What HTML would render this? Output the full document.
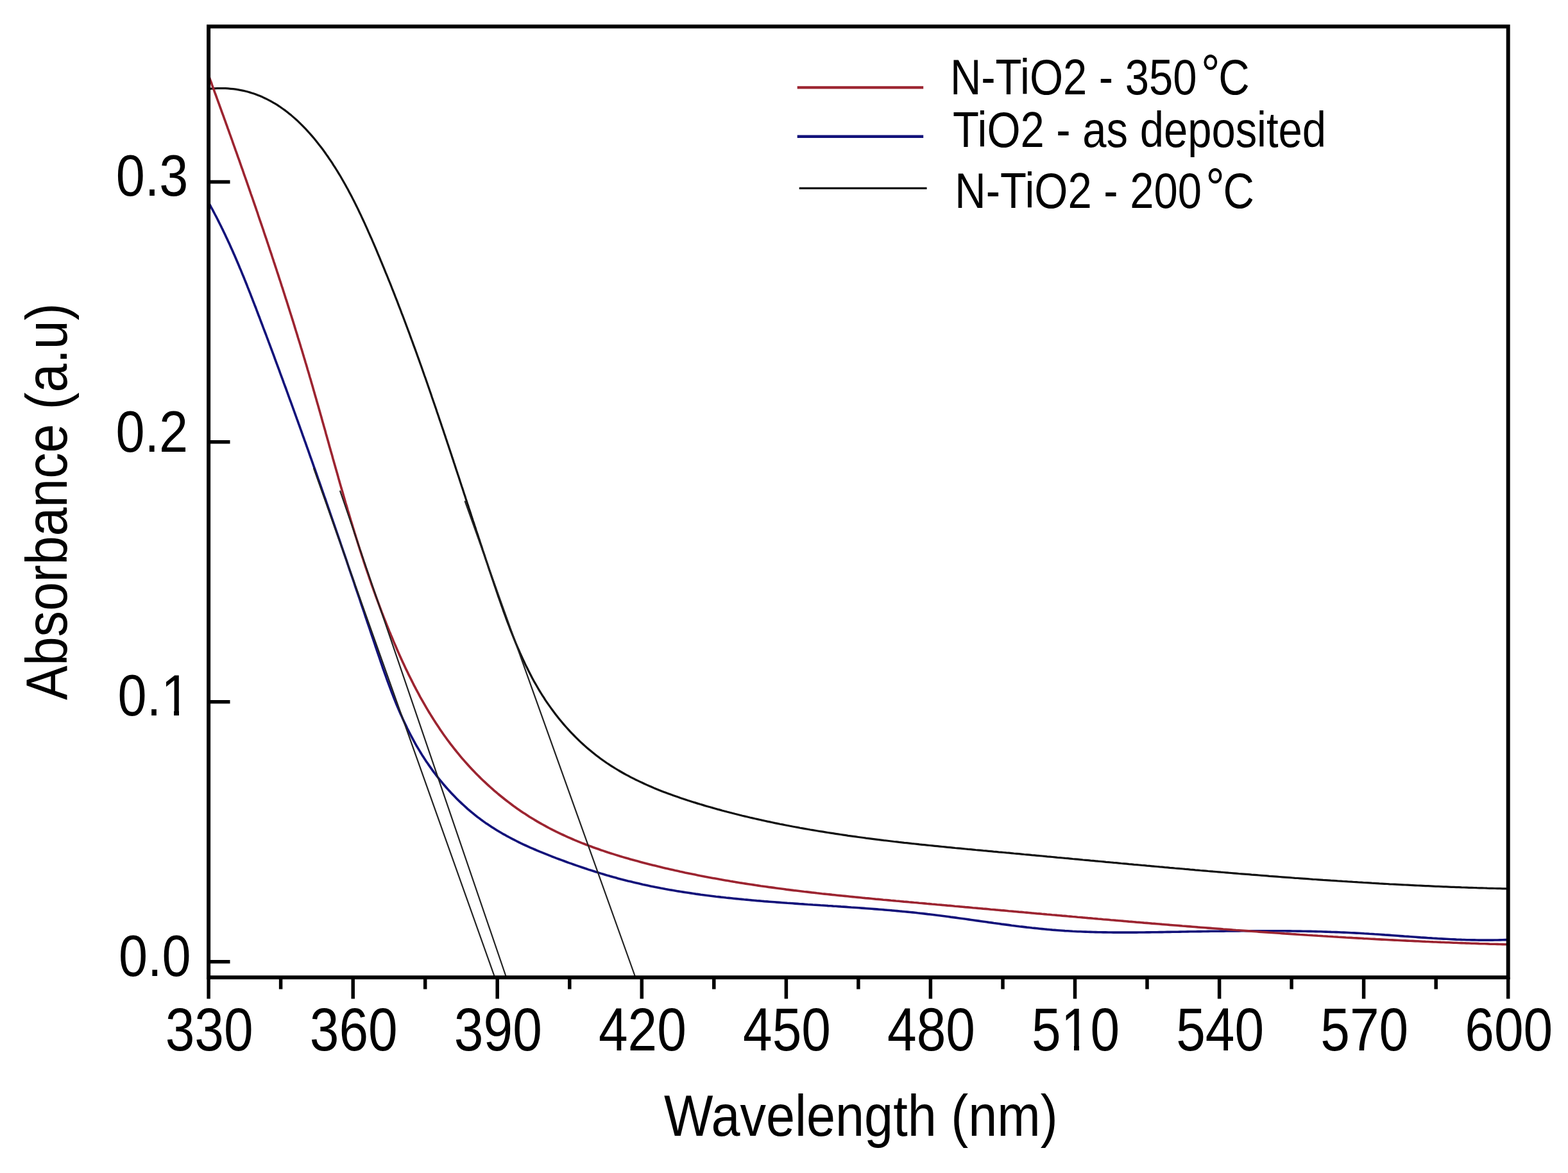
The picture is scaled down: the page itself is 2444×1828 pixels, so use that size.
<!DOCTYPE html><html><head><meta charset="utf-8"><title>Absorbance spectra</title><style>html,body{margin:0;padding:0;background:#fff;overflow:hidden;width:2444px;height:1828px;}svg{display:block;}text{font-family:"Liberation Sans",Arial,sans-serif;}</style></head><body>
<svg width="2444" height="1828" viewBox="0 0 2444 1828">
<rect x="0" y="0" width="2444" height="1828" fill="#fff"/>
<defs><clipPath id="pa"><rect x="325.1" y="41.3" width="2025.6" height="1481.9"/></clipPath></defs>
<g clip-path="url(#pa)" fill="none" stroke-linejoin="round" stroke-linecap="round">
<path d="M325.3,138.6 L329.8,138.1 L334.2,137.8 L338.5,137.6 L342.8,137.6 L347.1,137.6 L351.3,137.7 L355.4,137.9 L359.5,138.3 L363.6,138.7 L367.6,139.2 L371.6,139.9 L375.5,140.6 L379.4,141.4 L383.2,142.3 L387.0,143.3 L390.7,144.4 L394.4,145.6 L398.1,146.8 L401.7,148.2 L405.2,149.6 L408.8,151.1 L412.2,152.7 L415.7,154.4 L419.1,156.1 L422.4,157.9 L425.8,159.8 L429.0,161.7 L432.3,163.7 L435.5,165.8 L438.6,168.0 L441.8,170.2 L444.9,172.4 L447.9,174.8 L450.9,177.2 L453.9,179.6 L456.8,182.1 L459.7,184.6 L462.6,187.2 L465.4,189.9 L468.2,192.6 L471.0,195.3 L473.7,198.1 L476.4,200.9 L479.1,203.8 L481.7,206.7 L484.3,209.6 L486.9,212.6 L489.4,215.6 L492.0,218.7 L494.4,221.8 L496.9,224.9 L499.3,228.0 L501.7,231.1 L504.1,234.3 L506.4,237.5 L508.7,240.8 L511.0,244.0 L513.2,247.3 L515.5,250.6 L517.7,253.9 L519.8,257.3 L522.0,260.6 L524.1,264.0 L526.2,267.4 L528.3,270.8 L530.4,274.3 L532.4,277.7 L534.4,281.2 L536.4,284.7 L538.4,288.2 L540.3,291.8 L542.3,295.3 L544.2,298.9 L546.1,302.4 L548.0,306.0 L549.8,309.6 L551.7,313.2 L553.5,316.9 L555.3,320.5 L557.1,324.1 L558.9,327.8 L560.6,331.5 L562.4,335.1 L564.1,338.8 L565.8,342.5 L567.5,346.2 L569.2,349.9 L570.9,353.6 L572.6,357.3 L574.2,361.1 L575.9,364.8 L577.5,368.5 L579.2,372.2 L580.8,376.0 L582.4,379.7 L584.0,383.4 L585.6,387.2 L587.2,390.9 L588.7,394.7 L590.3,398.4 L591.9,402.1 L593.4,405.9 L595.0,409.6 L596.5,413.3 L598.1,417.1 L599.6,420.8 L601.1,424.6 L602.7,428.3 L604.2,432.0 L605.7,435.8 L607.2,439.5 L608.7,443.2 L610.2,447.0 L611.6,450.7 L613.1,454.4 L614.6,458.2 L616.0,461.9 L617.5,465.6 L619.0,469.4 L620.4,473.1 L621.8,476.9 L623.3,480.6 L624.7,484.3 L626.1,488.1 L627.6,491.8 L629.0,495.5 L630.4,499.3 L631.8,503.0 L633.2,506.7 L634.6,510.5 L636.0,514.2 L637.4,517.9 L638.8,521.7 L640.1,525.4 L641.5,529.2 L642.9,532.9 L644.2,536.6 L645.6,540.4 L647.0,544.1 L648.3,547.8 L649.7,551.6 L651.0,555.3 L652.4,559.1 L653.7,562.8 L655.0,566.5 L656.4,570.3 L657.7,574.0 L659.0,577.8 L660.3,581.5 L661.6,585.3 L663.0,589.0 L664.3,592.7 L665.6,596.5 L666.9,600.2 L668.2,604.0 L669.5,607.7 L670.8,611.5 L672.1,615.2 L673.3,619.0 L674.6,622.7 L675.9,626.5 L677.2,630.2 L678.5,634.0 L679.8,637.7 L681.0,641.5 L682.3,645.2 L683.6,649.0 L684.8,652.7 L686.1,656.5 L687.4,660.2 L688.6,664.0 L689.9,667.7 L691.2,671.5 L692.4,675.3 L693.7,679.0 L694.9,682.8 L696.2,686.5 L697.4,690.3 L698.7,694.1 L699.9,697.8 L701.2,701.6 L702.4,705.3 L703.7,709.1 L704.9,712.9 L706.2,716.6 L707.4,720.4 L708.7,724.2 L709.9,728.0 L711.1,731.7 L712.4,735.5 L713.6,739.3 L714.9,743.1 L716.1,746.8 L717.3,750.6 L718.6,754.4 L719.8,758.2 L721.1,761.9 L722.3,765.7 L723.5,769.5 L724.8,773.3 L726.0,777.1 L727.3,780.9 L728.5,784.7 L729.8,788.4 L731.0,792.2 L732.3,796.0 L733.5,799.8 L734.7,803.6 L736.0,807.4 L737.2,811.2 L738.5,815.0 L739.7,818.8 L741.0,822.6 L742.2,826.4 L743.5,830.2 L744.8,834.0 L746.0,837.8 L747.3,841.6 L748.5,845.4 L749.8,849.3 L751.1,853.1 L752.3,856.9 L753.6,860.7 L754.9,864.5 L756.1,868.3 L757.4,872.2 L758.7,876.0 L760.0,879.8 L761.2,883.6 L762.5,887.5 L763.8,891.3 L765.1,895.1 L766.4,898.9 L767.7,902.8 L769.0,906.6 L770.3,910.5 L771.6,914.3 L772.9,918.1 L774.2,922.0 L775.5,925.8 L776.8,929.7 L778.2,933.5 L779.5,937.3 L780.9,941.2 L782.2,945.0 L783.6,948.8 L784.9,952.7 L786.3,956.5 L787.7,960.3 L789.1,964.1 L790.5,967.9 L791.9,971.7 L793.4,975.5 L794.8,979.3 L796.3,983.1 L797.8,986.9 L799.3,990.6 L800.8,994.4 L802.3,998.1 L803.8,1001.9 L805.4,1005.6 L807.0,1009.3 L808.6,1013.0 L810.2,1016.7 L811.9,1020.4 L813.5,1024.0 L815.2,1027.7 L816.9,1031.3 L818.6,1034.9 L820.4,1038.6 L822.2,1042.1 L824.0,1045.7 L825.8,1049.3 L827.6,1052.8 L829.5,1056.4 L831.4,1059.9 L833.3,1063.4 L835.3,1066.8 L837.3,1070.3 L839.3,1073.7 L841.3,1077.1 L843.4,1080.5 L845.5,1083.9 L847.7,1087.2 L849.8,1090.6 L852.0,1093.9 L854.3,1097.2 L856.6,1100.4 L858.9,1103.6 L861.2,1106.8 L863.6,1110.0 L866.0,1113.2 L868.4,1116.3 L870.9,1119.4 L873.4,1122.5 L875.9,1125.5 L878.5,1128.6 L881.0,1131.5 L883.7,1134.5 L886.3,1137.4 L889.0,1140.3 L891.7,1143.2 L894.5,1146.0 L897.3,1148.8 L900.1,1151.6 L902.9,1154.4 L905.8,1157.1 L908.7,1159.7 L911.6,1162.4 L914.5,1165.0 L917.5,1167.5 L920.6,1170.1 L923.6,1172.6 L926.7,1175.0 L929.8,1177.4 L932.9,1179.8 L936.1,1182.2 L939.3,1184.5 L942.5,1186.7 L945.7,1189.0 L949.0,1191.1 L952.3,1193.3 L955.6,1195.4 L959.0,1197.5 L962.3,1199.5 L965.7,1201.5 L969.1,1203.5 L972.6,1205.5 L976.0,1207.4 L979.5,1209.2 L983.0,1211.1 L986.6,1212.9 L990.1,1214.7 L993.7,1216.4 L997.3,1218.1 L1000.9,1219.8 L1004.5,1221.5 L1008.1,1223.1 L1011.8,1224.8 L1015.4,1226.3 L1019.1,1227.9 L1022.8,1229.4 L1026.5,1230.9 L1030.2,1232.4 L1034.0,1233.9 L1037.7,1235.3 L1041.5,1236.7 L1045.3,1238.1 L1049.1,1239.5 L1052.8,1240.8 L1056.6,1242.1 L1060.5,1243.5 L1064.3,1244.7 L1068.1,1246.0 L1071.9,1247.3 L1075.8,1248.5 L1079.6,1249.7 L1083.5,1250.9 L1087.3,1252.1 L1091.2,1253.3 L1095.1,1254.4 L1098.9,1255.6 L1102.8,1256.7 L1106.7,1257.8 L1110.5,1258.9 L1114.4,1260.0 L1118.3,1261.1 L1122.2,1262.1 L1126.0,1263.2 L1129.9,1264.2 L1133.8,1265.3 L1137.7,1266.3 L1141.6,1267.3 L1145.5,1268.3 L1149.4,1269.2 L1153.3,1270.2 L1157.2,1271.2 L1161.1,1272.1 L1165.0,1273.0 L1168.9,1274.0 L1172.8,1274.9 L1176.7,1275.8 L1180.6,1276.6 L1184.5,1277.5 L1188.4,1278.4 L1192.3,1279.2 L1196.2,1280.1 L1200.1,1280.9 L1204.0,1281.7 L1207.9,1282.6 L1211.9,1283.4 L1215.8,1284.2 L1219.7,1284.9 L1223.6,1285.7 L1227.6,1286.5 L1231.5,1287.2 L1235.4,1288.0 L1239.3,1288.7 L1243.3,1289.4 L1247.2,1290.2 L1251.1,1290.9 L1255.1,1291.6 L1259.0,1292.3 L1262.9,1293.0 L1266.9,1293.6 L1270.8,1294.3 L1274.8,1295.0 L1278.7,1295.6 L1282.6,1296.2 L1286.6,1296.9 L1290.5,1297.5 L1294.5,1298.1 L1298.4,1298.7 L1302.4,1299.3 L1306.3,1299.9 L1310.3,1300.5 L1314.2,1301.1 L1318.2,1301.7 L1322.1,1302.3 L1326.1,1302.8 L1330.1,1303.4 L1334.0,1303.9 L1338.0,1304.5 L1341.9,1305.0 L1345.9,1305.5 L1349.8,1306.1 L1353.8,1306.6 L1357.8,1307.1 L1361.7,1307.6 L1365.7,1308.1 L1369.7,1308.6 L1373.6,1309.1 L1377.6,1309.6 L1381.6,1310.0 L1385.5,1310.5 L1389.5,1311.0 L1393.5,1311.5 L1397.4,1311.9 L1401.4,1312.4 L1405.4,1312.8 L1409.4,1313.3 L1413.3,1313.7 L1417.3,1314.1 L1421.3,1314.6 L1425.3,1315.0 L1429.2,1315.4 L1433.2,1315.9 L1437.2,1316.3 L1441.2,1316.7 L1445.1,1317.1 L1449.1,1317.5 L1453.1,1317.9 L1457.1,1318.3 L1461.1,1318.7 L1465.0,1319.1 L1469.0,1319.5 L1473.0,1319.9 L1477.0,1320.3 L1481.0,1320.7 L1484.9,1321.1 L1488.9,1321.5 L1492.9,1321.8 L1496.9,1322.2 L1500.9,1322.6 L1504.8,1323.0 L1508.8,1323.4 L1512.8,1323.7 L1516.8,1324.1 L1520.8,1324.5 L1524.8,1324.8 L1528.7,1325.2 L1532.7,1325.6 L1536.7,1325.9 L1540.7,1326.3 L1544.7,1326.7 L1548.7,1327.1 L1552.6,1327.4 L1556.6,1327.8 L1560.6,1328.1 L1564.6,1328.5 L1568.6,1328.9 L1572.6,1329.2 L1576.5,1329.6 L1580.5,1330.0 L1584.5,1330.3 L1588.5,1330.7 L1592.5,1331.1 L1596.5,1331.5 L1600.4,1331.8 L1604.4,1332.2 L1608.4,1332.6 L1612.4,1332.9 L1616.4,1333.3 L1620.4,1333.7 L1624.3,1334.0 L1628.3,1334.4 L1632.3,1334.8 L1636.3,1335.1 L1640.3,1335.5 L1644.2,1335.9 L1648.2,1336.3 L1652.2,1336.6 L1656.2,1337.0 L1660.2,1337.4 L1664.2,1337.7 L1668.1,1338.1 L1672.1,1338.5 L1676.1,1338.8 L1680.1,1339.2 L1684.1,1339.6 L1688.0,1340.0 L1692.0,1340.3 L1696.0,1340.7 L1700.0,1341.1 L1704.0,1341.4 L1707.9,1341.8 L1711.9,1342.2 L1715.9,1342.5 L1719.9,1342.9 L1723.9,1343.3 L1727.8,1343.6 L1731.8,1344.0 L1735.8,1344.4 L1739.8,1344.7 L1743.8,1345.1 L1747.7,1345.5 L1751.7,1345.8 L1755.7,1346.2 L1759.7,1346.6 L1763.7,1346.9 L1767.6,1347.3 L1771.6,1347.6 L1775.6,1348.0 L1779.6,1348.4 L1783.6,1348.7 L1787.6,1349.1 L1791.5,1349.4 L1795.5,1349.8 L1799.5,1350.2 L1803.5,1350.5 L1807.5,1350.9 L1811.4,1351.2 L1815.4,1351.6 L1819.4,1351.9 L1823.4,1352.3 L1827.4,1352.6 L1831.3,1353.0 L1835.3,1353.3 L1839.3,1353.7 L1843.3,1354.0 L1847.3,1354.4 L1851.2,1354.7 L1855.2,1355.1 L1859.2,1355.4 L1863.2,1355.8 L1867.2,1356.1 L1871.1,1356.5 L1875.1,1356.8 L1879.1,1357.1 L1883.1,1357.5 L1887.1,1357.8 L1891.1,1358.2 L1895.0,1358.5 L1899.0,1358.8 L1903.0,1359.2 L1907.0,1359.5 L1911.0,1359.8 L1914.9,1360.2 L1918.9,1360.5 L1922.9,1360.8 L1926.9,1361.1 L1930.9,1361.5 L1934.9,1361.8 L1938.8,1362.1 L1942.8,1362.4 L1946.8,1362.7 L1950.8,1363.1 L1954.8,1363.4 L1958.8,1363.7 L1962.7,1364.0 L1966.7,1364.3 L1970.7,1364.6 L1974.7,1364.9 L1978.7,1365.3 L1982.7,1365.6 L1986.6,1365.9 L1990.6,1366.2 L1994.6,1366.5 L1998.6,1366.8 L2002.6,1367.1 L2006.6,1367.4 L2010.6,1367.7 L2014.5,1368.0 L2018.5,1368.3 L2022.5,1368.5 L2026.5,1368.8 L2030.5,1369.1 L2034.5,1369.4 L2038.4,1369.7 L2042.4,1370.0 L2046.4,1370.3 L2050.4,1370.5 L2054.4,1370.8 L2058.4,1371.1 L2062.4,1371.4 L2066.4,1371.6 L2070.3,1371.9 L2074.3,1372.2 L2078.3,1372.4 L2082.3,1372.7 L2086.3,1373.0 L2090.3,1373.2 L2094.3,1373.5 L2098.3,1373.7 L2102.2,1374.0 L2106.2,1374.2 L2110.2,1374.5 L2114.2,1374.7 L2118.2,1375.0 L2122.2,1375.2 L2126.2,1375.5 L2130.2,1375.7 L2134.2,1375.9 L2138.2,1376.2 L2142.1,1376.4 L2146.1,1376.6 L2150.1,1376.9 L2154.1,1377.1 L2158.1,1377.3 L2162.1,1377.5 L2166.1,1377.8 L2170.1,1378.0 L2174.1,1378.2 L2178.1,1378.4 L2182.1,1378.6 L2186.1,1378.8 L2190.0,1379.0 L2194.0,1379.2 L2198.0,1379.4 L2202.0,1379.6 L2206.0,1379.8 L2210.0,1380.0 L2214.0,1380.2 L2218.0,1380.4 L2222.0,1380.6 L2226.0,1380.7 L2230.0,1380.9 L2234.0,1381.1 L2238.0,1381.3 L2242.0,1381.4 L2246.0,1381.6 L2250.0,1381.8 L2254.0,1381.9 L2258.0,1382.1 L2262.0,1382.3 L2266.0,1382.4 L2270.0,1382.6 L2274.0,1382.7 L2278.0,1382.9 L2282.0,1383.0 L2286.0,1383.1 L2290.0,1383.3 L2294.0,1383.4 L2298.0,1383.5 L2302.0,1383.7 L2306.0,1383.8 L2310.0,1383.9 L2314.0,1384.0 L2318.0,1384.2 L2322.0,1384.3 L2326.0,1384.4 L2330.0,1384.5 L2334.0,1384.6 L2338.0,1384.7 L2342.0,1384.8 L2346.0,1384.9 L2350.0,1385.0" stroke="#111111" stroke-width="3.2"/>
<path d="M325.5,316.5 L327.5,320.0 L329.4,323.5 L331.3,326.9 L333.2,330.5 L335.0,334.0 L336.9,337.5 L338.7,341.0 L340.5,344.6 L342.3,348.2 L344.1,351.7 L345.8,355.3 L347.6,358.9 L349.3,362.5 L351.0,366.1 L352.7,369.7 L354.4,373.3 L356.1,376.9 L357.8,380.6 L359.4,384.2 L361.0,387.8 L362.7,391.5 L364.3,395.2 L365.9,398.8 L367.5,402.5 L369.1,406.2 L370.6,409.8 L372.2,413.5 L373.7,417.2 L375.3,420.9 L376.8,424.6 L378.3,428.3 L379.9,432.0 L381.4,435.8 L382.9,439.5 L384.4,443.2 L385.8,446.9 L387.3,450.6 L388.8,454.4 L390.3,458.1 L391.7,461.8 L393.2,465.6 L394.6,469.3 L396.1,473.1 L397.5,476.8 L399.0,480.5 L400.4,484.3 L401.8,488.0 L403.2,491.8 L404.7,495.5 L406.1,499.3 L407.5,503.0 L408.9,506.7 L410.3,510.5 L411.7,514.2 L413.2,518.0 L414.6,521.7 L416.0,525.5 L417.4,529.2 L418.8,533.0 L420.2,536.7 L421.6,540.4 L423.0,544.2 L424.4,547.9 L425.8,551.7 L427.2,555.4 L428.5,559.1 L429.9,562.9 L431.3,566.6 L432.7,570.4 L434.1,574.1 L435.5,577.9 L436.8,581.6 L438.2,585.3 L439.6,589.1 L441.0,592.8 L442.3,596.6 L443.7,600.3 L445.1,604.0 L446.5,607.8 L447.8,611.5 L449.2,615.3 L450.5,619.0 L451.9,622.8 L453.3,626.5 L454.6,630.2 L456.0,634.0 L457.3,637.7 L458.7,641.5 L460.0,645.2 L461.4,649.0 L462.7,652.7 L464.1,656.4 L465.4,660.2 L466.8,663.9 L468.1,667.7 L469.5,671.4 L470.8,675.2 L472.1,678.9 L473.5,682.7 L474.8,686.4 L476.2,690.1 L477.5,693.9 L478.8,697.6 L480.2,701.4 L481.5,705.1 L482.8,708.9 L484.1,712.6 L485.5,716.4 L486.8,720.1 L488.1,723.9 L489.4,727.6 L490.8,731.4 L492.1,735.1 L493.4,738.9 L494.7,742.6 L496.0,746.4 L497.4,750.2 L498.7,753.9 L500.0,757.7 L501.3,761.4 L502.6,765.2 L503.9,768.9 L505.2,772.7 L506.6,776.4 L507.9,780.2 L509.2,784.0 L510.5,787.7 L511.8,791.5 L513.1,795.2 L514.4,799.0 L515.7,802.8 L517.0,806.5 L518.3,810.3 L519.6,814.1 L520.9,817.8 L522.2,821.6 L523.5,825.4 L524.8,829.1 L526.1,832.9 L527.4,836.7 L528.7,840.4 L530.0,844.2 L531.3,848.0 L532.6,851.8 L533.9,855.5 L535.2,859.3 L536.5,863.1 L537.8,866.9 L539.1,870.6 L540.4,874.4 L541.6,878.2 L542.9,882.0 L544.2,885.8 L545.5,889.6 L546.8,893.3 L548.1,897.1 L549.4,900.9 L550.7,904.7 L552.0,908.5 L553.2,912.3 L554.5,916.1 L555.8,919.9 L557.1,923.7 L558.4,927.5 L559.7,931.2 L561.0,935.0 L562.2,938.8 L563.5,942.6 L564.8,946.4 L566.1,950.2 L567.4,954.0 L568.7,957.9 L569.9,961.7 L571.2,965.5 L572.5,969.3 L573.8,973.1 L575.1,976.9 L576.4,980.7 L577.6,984.5 L578.9,988.3 L580.2,992.2 L581.5,996.0 L582.8,999.8 L584.1,1003.6 L585.3,1007.4 L586.6,1011.3 L587.9,1015.1 L589.2,1018.9 L590.5,1022.7 L591.8,1026.5 L593.1,1030.4 L594.4,1034.2 L595.7,1038.0 L597.0,1041.8 L598.4,1045.6 L599.7,1049.4 L601.1,1053.2 L602.4,1057.0 L603.8,1060.8 L605.2,1064.6 L606.6,1068.3 L608.0,1072.1 L609.4,1075.9 L610.8,1079.6 L612.3,1083.4 L613.7,1087.1 L615.2,1090.8 L616.7,1094.6 L618.2,1098.3 L619.8,1102.0 L621.3,1105.6 L622.9,1109.3 L624.5,1113.0 L626.2,1116.6 L627.8,1120.3 L629.5,1123.9 L631.2,1127.5 L632.9,1131.1 L634.6,1134.7 L636.4,1138.3 L638.2,1141.8 L640.0,1145.3 L641.9,1148.9 L643.8,1152.4 L645.7,1155.9 L647.6,1159.3 L649.6,1162.8 L651.6,1166.2 L653.7,1169.6 L655.7,1173.0 L657.8,1176.4 L660.0,1179.7 L662.1,1183.1 L664.3,1186.4 L666.5,1189.6 L668.8,1192.9 L671.1,1196.1 L673.4,1199.4 L675.7,1202.6 L678.1,1205.7 L680.5,1208.9 L682.9,1212.0 L685.4,1215.1 L687.9,1218.1 L690.4,1221.2 L693.0,1224.2 L695.6,1227.2 L698.2,1230.1 L700.8,1233.0 L703.5,1235.9 L706.2,1238.8 L708.9,1241.6 L711.7,1244.4 L714.5,1247.2 L717.3,1249.9 L720.2,1252.6 L723.1,1255.3 L726.0,1257.9 L728.9,1260.6 L731.9,1263.1 L734.9,1265.7 L738.0,1268.2 L741.0,1270.6 L744.1,1273.1 L747.3,1275.4 L750.4,1277.8 L753.6,1280.1 L756.8,1282.4 L760.1,1284.6 L763.4,1286.8 L766.7,1289.0 L770.0,1291.1 L773.4,1293.2 L776.8,1295.3 L780.2,1297.3 L783.6,1299.3 L787.1,1301.2 L790.6,1303.2 L794.1,1305.0 L797.6,1306.9 L801.1,1308.7 L804.7,1310.5 L808.3,1312.3 L811.9,1314.1 L815.5,1315.8 L819.2,1317.5 L822.8,1319.1 L826.5,1320.8 L830.2,1322.4 L833.9,1324.0 L837.6,1325.6 L841.3,1327.2 L845.1,1328.7 L848.8,1330.2 L852.6,1331.7 L856.3,1333.2 L860.1,1334.7 L863.9,1336.1 L867.7,1337.6 L871.5,1339.0 L875.3,1340.4 L879.1,1341.8 L882.9,1343.2 L886.7,1344.6 L890.5,1345.9 L894.3,1347.3 L898.1,1348.6 L901.9,1349.9 L905.8,1351.2 L909.6,1352.5 L913.4,1353.8 L917.2,1355.1 L921.1,1356.3 L924.9,1357.5 L928.7,1358.7 L932.6,1359.9 L936.4,1361.1 L940.3,1362.3 L944.1,1363.4 L948.0,1364.6 L951.9,1365.7 L955.7,1366.8 L959.6,1367.8 L963.4,1368.9 L967.3,1369.9 L971.2,1370.9 L975.1,1371.9 L978.9,1372.9 L982.8,1373.8 L986.7,1374.8 L990.6,1375.7 L994.5,1376.6 L998.4,1377.5 L1002.3,1378.4 L1006.2,1379.2 L1010.0,1380.1 L1013.9,1380.9 L1017.9,1381.7 L1021.8,1382.5 L1025.7,1383.2 L1029.6,1384.0 L1033.5,1384.7 L1037.4,1385.5 L1041.3,1386.2 L1045.2,1386.9 L1049.1,1387.5 L1053.1,1388.2 L1057.0,1388.9 L1060.9,1389.5 L1064.8,1390.1 L1068.8,1390.7 L1072.7,1391.3 L1076.6,1391.9 L1080.6,1392.5 L1084.5,1393.1 L1088.5,1393.6 L1092.4,1394.2 L1096.3,1394.7 L1100.3,1395.2 L1104.2,1395.7 L1108.2,1396.2 L1112.1,1396.7 L1116.1,1397.2 L1120.0,1397.6 L1124.0,1398.1 L1127.9,1398.5 L1131.9,1399.0 L1135.8,1399.4 L1139.8,1399.8 L1143.8,1400.2 L1147.7,1400.6 L1151.7,1401.0 L1155.7,1401.4 L1159.6,1401.8 L1163.6,1402.1 L1167.6,1402.5 L1171.5,1402.9 L1175.5,1403.2 L1179.5,1403.6 L1183.4,1403.9 L1187.4,1404.2 L1191.4,1404.6 L1195.4,1404.9 L1199.3,1405.2 L1203.3,1405.5 L1207.3,1405.8 L1211.3,1406.1 L1215.2,1406.4 L1219.2,1406.7 L1223.2,1407.0 L1227.2,1407.3 L1231.2,1407.5 L1235.2,1407.8 L1239.1,1408.1 L1243.1,1408.4 L1247.1,1408.7 L1251.1,1408.9 L1255.1,1409.2 L1259.1,1409.5 L1263.0,1409.7 L1267.0,1410.0 L1271.0,1410.2 L1275.0,1410.5 L1279.0,1410.8 L1283.0,1411.0 L1287.0,1411.3 L1290.9,1411.6 L1294.9,1411.8 L1298.9,1412.1 L1302.9,1412.3 L1306.9,1412.6 L1310.9,1412.9 L1314.9,1413.1 L1318.9,1413.4 L1322.8,1413.7 L1326.8,1414.0 L1330.8,1414.2 L1334.8,1414.5 L1338.8,1414.8 L1342.8,1415.1 L1346.8,1415.4 L1350.7,1415.7 L1354.7,1416.0 L1358.7,1416.3 L1362.7,1416.6 L1366.7,1416.9 L1370.7,1417.2 L1374.7,1417.5 L1378.6,1417.9 L1382.6,1418.2 L1386.6,1418.5 L1390.6,1418.9 L1394.6,1419.2 L1398.5,1419.6 L1402.5,1420.0 L1406.5,1420.4 L1410.5,1420.7 L1414.5,1421.1 L1418.4,1421.5 L1422.4,1421.9 L1426.4,1422.3 L1430.3,1422.8 L1434.3,1423.2 L1438.3,1423.6 L1442.3,1424.1 L1446.2,1424.6 L1450.2,1425.0 L1454.2,1425.5 L1458.1,1426.0 L1462.1,1426.5 L1466.1,1427.0 L1470.0,1427.5 L1474.0,1428.0 L1477.9,1428.5 L1481.9,1429.1 L1485.9,1429.6 L1489.8,1430.1 L1493.8,1430.7 L1497.7,1431.2 L1501.7,1431.8 L1505.6,1432.3 L1509.6,1432.9 L1513.6,1433.5 L1517.5,1434.0 L1521.5,1434.6 L1525.4,1435.1 L1529.4,1435.7 L1533.3,1436.2 L1537.3,1436.8 L1541.2,1437.4 L1545.2,1437.9 L1549.1,1438.5 L1553.1,1439.0 L1557.0,1439.5 L1561.0,1440.1 L1565.0,1440.6 L1568.9,1441.1 L1572.9,1441.6 L1576.8,1442.2 L1580.8,1442.7 L1584.7,1443.2 L1588.7,1443.7 L1592.6,1444.1 L1596.6,1444.6 L1600.6,1445.1 L1604.5,1445.5 L1608.5,1446.0 L1612.4,1446.4 L1616.4,1446.8 L1620.3,1447.2 L1624.3,1447.6 L1628.3,1448.0 L1632.2,1448.4 L1636.2,1448.7 L1640.2,1449.1 L1644.1,1449.4 L1648.1,1449.7 L1652.1,1450.0 L1656.0,1450.3 L1660.0,1450.6 L1664.0,1450.8 L1667.9,1451.0 L1671.9,1451.3 L1675.9,1451.5 L1679.8,1451.7 L1683.8,1451.8 L1687.8,1452.0 L1691.8,1452.1 L1695.7,1452.3 L1699.7,1452.4 L1703.7,1452.5 L1707.7,1452.6 L1711.7,1452.7 L1715.6,1452.8 L1719.6,1452.9 L1723.6,1452.9 L1727.6,1453.0 L1731.6,1453.0 L1735.6,1453.1 L1739.5,1453.1 L1743.5,1453.1 L1747.5,1453.1 L1751.5,1453.1 L1755.5,1453.1 L1759.5,1453.1 L1763.4,1453.1 L1767.4,1453.1 L1771.4,1453.1 L1775.4,1453.0 L1779.4,1453.0 L1783.4,1453.0 L1787.4,1452.9 L1791.4,1452.9 L1795.4,1452.8 L1799.3,1452.8 L1803.3,1452.7 L1807.3,1452.6 L1811.3,1452.6 L1815.3,1452.5 L1819.3,1452.4 L1823.3,1452.4 L1827.3,1452.3 L1831.3,1452.2 L1835.3,1452.2 L1839.2,1452.1 L1843.2,1452.0 L1847.2,1452.0 L1851.2,1451.9 L1855.2,1451.8 L1859.2,1451.8 L1863.2,1451.7 L1867.2,1451.6 L1871.2,1451.6 L1875.2,1451.5 L1879.2,1451.5 L1883.1,1451.4 L1887.1,1451.3 L1891.1,1451.3 L1895.1,1451.2 L1899.1,1451.2 L1903.1,1451.1 L1907.1,1451.1 L1911.1,1451.0 L1915.1,1451.0 L1919.1,1451.0 L1923.1,1450.9 L1927.0,1450.9 L1931.0,1450.9 L1935.0,1450.8 L1939.0,1450.8 L1943.0,1450.8 L1947.0,1450.7 L1951.0,1450.7 L1955.0,1450.7 L1959.0,1450.7 L1963.0,1450.7 L1967.0,1450.7 L1970.9,1450.7 L1974.9,1450.7 L1978.9,1450.7 L1982.9,1450.7 L1986.9,1450.7 L1990.9,1450.7 L1994.9,1450.8 L1998.9,1450.8 L2002.9,1450.8 L2006.9,1450.9 L2010.8,1450.9 L2014.8,1451.0 L2018.8,1451.0 L2022.8,1451.1 L2026.8,1451.1 L2030.8,1451.2 L2034.8,1451.3 L2038.8,1451.4 L2042.8,1451.4 L2046.8,1451.5 L2050.7,1451.6 L2054.7,1451.7 L2058.7,1451.8 L2062.7,1452.0 L2066.7,1452.1 L2070.7,1452.2 L2074.7,1452.4 L2078.7,1452.5 L2082.7,1452.6 L2086.6,1452.8 L2090.6,1453.0 L2094.6,1453.1 L2098.6,1453.3 L2102.6,1453.5 L2106.6,1453.7 L2110.6,1453.9 L2114.6,1454.1 L2118.6,1454.3 L2122.5,1454.5 L2126.5,1454.8 L2130.5,1455.0 L2134.5,1455.3 L2138.5,1455.5 L2142.5,1455.8 L2146.5,1456.0 L2150.5,1456.3 L2154.4,1456.6 L2158.4,1456.9 L2162.4,1457.1 L2166.4,1457.4 L2170.4,1457.7 L2174.4,1458.0 L2178.4,1458.3 L2182.3,1458.6 L2186.3,1458.9 L2190.3,1459.2 L2194.3,1459.4 L2198.3,1459.7 L2202.3,1460.0 L2206.3,1460.3 L2210.3,1460.6 L2214.2,1460.9 L2218.2,1461.1 L2222.2,1461.4 L2226.2,1461.7 L2230.2,1461.9 L2234.2,1462.2 L2238.2,1462.4 L2242.2,1462.7 L2246.2,1462.9 L2250.1,1463.1 L2254.1,1463.3 L2258.1,1463.5 L2262.1,1463.7 L2266.1,1463.9 L2270.1,1464.1 L2274.1,1464.2 L2278.1,1464.4 L2282.1,1464.5 L2286.1,1464.7 L2290.1,1464.8 L2294.1,1464.9 L2298.0,1464.9 L2302.0,1465.0 L2306.0,1465.1 L2310.0,1465.1 L2314.0,1465.1 L2318.0,1465.1 L2322.0,1465.1 L2326.0,1465.1 L2330.0,1465.0 L2334.0,1465.0 L2338.0,1464.9 L2342.0,1464.8 L2346.0,1464.6 L2350.0,1464.5" stroke="#12127a" stroke-width="3.6"/>
<path d="M325.2,117.5 L326.5,121.2 L327.9,125.0 L329.3,128.7 L330.6,132.5 L332.0,136.3 L333.4,140.0 L334.7,143.8 L336.1,147.5 L337.5,151.3 L338.8,155.0 L340.2,158.8 L341.6,162.6 L342.9,166.3 L344.3,170.1 L345.6,173.8 L347.0,177.6 L348.4,181.4 L349.7,185.1 L351.1,188.9 L352.4,192.6 L353.8,196.4 L355.1,200.2 L356.5,203.9 L357.8,207.7 L359.2,211.5 L360.5,215.2 L361.9,219.0 L363.2,222.8 L364.5,226.5 L365.9,230.3 L367.2,234.1 L368.6,237.8 L369.9,241.6 L371.2,245.4 L372.6,249.1 L373.9,252.9 L375.2,256.7 L376.5,260.5 L377.9,264.2 L379.2,268.0 L380.5,271.8 L381.8,275.5 L383.2,279.3 L384.5,283.1 L385.8,286.9 L387.1,290.6 L388.4,294.4 L389.7,298.2 L391.0,302.0 L392.4,305.8 L393.7,309.5 L395.0,313.3 L396.3,317.1 L397.6,320.9 L398.9,324.7 L400.2,328.5 L401.5,332.2 L402.7,336.0 L404.0,339.8 L405.3,343.6 L406.6,347.4 L407.9,351.2 L409.2,355.0 L410.5,358.7 L411.7,362.5 L413.0,366.3 L414.3,370.1 L415.6,373.9 L416.8,377.7 L418.1,381.5 L419.4,385.3 L420.6,389.1 L421.9,392.9 L423.2,396.7 L424.4,400.5 L425.7,404.3 L426.9,408.1 L428.2,411.9 L429.4,415.7 L430.7,419.5 L431.9,423.3 L433.2,427.1 L434.4,430.9 L435.6,434.7 L436.9,438.5 L438.1,442.3 L439.3,446.1 L440.6,449.9 L441.8,453.7 L443.0,457.5 L444.2,461.3 L445.4,465.1 L446.7,468.9 L447.9,472.7 L449.1,476.6 L450.3,480.4 L451.5,484.2 L452.7,488.0 L453.9,491.8 L455.1,495.6 L456.3,499.4 L457.5,503.3 L458.7,507.1 L459.8,510.9 L461.0,514.7 L462.2,518.5 L463.4,522.4 L464.5,526.2 L465.7,530.0 L466.9,533.8 L468.1,537.7 L469.2,541.5 L470.4,545.3 L471.5,549.1 L472.7,553.0 L473.8,556.8 L475.0,560.6 L476.1,564.5 L477.3,568.3 L478.4,572.1 L479.5,576.0 L480.7,579.8 L481.8,583.6 L482.9,587.5 L484.1,591.3 L485.2,595.2 L486.3,599.0 L487.4,602.8 L488.5,606.7 L489.6,610.5 L490.7,614.4 L491.8,618.2 L492.9,622.1 L494.0,625.9 L495.1,629.8 L496.2,633.6 L497.3,637.5 L498.4,641.3 L499.5,645.2 L500.6,649.0 L501.7,652.9 L502.7,656.7 L503.8,660.6 L504.9,664.4 L506.0,668.3 L507.1,672.1 L508.1,676.0 L509.2,679.8 L510.3,683.7 L511.4,687.5 L512.5,691.4 L513.5,695.2 L514.6,699.1 L515.7,702.9 L516.8,706.8 L517.9,710.6 L518.9,714.5 L520.0,718.3 L521.1,722.2 L522.2,726.0 L523.3,729.9 L524.4,733.7 L525.5,737.6 L526.6,741.4 L527.6,745.3 L528.7,749.1 L529.8,753.0 L530.9,756.8 L532.0,760.6 L533.2,764.5 L534.3,768.3 L535.4,772.2 L536.5,776.0 L537.6,779.8 L538.7,783.7 L539.9,787.5 L541.0,791.3 L542.1,795.2 L543.3,799.0 L544.4,802.8 L545.6,806.7 L546.7,810.5 L547.9,814.3 L549.0,818.1 L550.2,822.0 L551.4,825.8 L552.5,829.6 L553.7,833.4 L554.9,837.2 L556.1,841.0 L557.3,844.9 L558.5,848.7 L559.7,852.5 L560.9,856.3 L562.2,860.1 L563.4,863.9 L564.6,867.7 L565.9,871.5 L567.1,875.3 L568.4,879.1 L569.6,882.9 L570.9,886.6 L572.2,890.4 L573.5,894.2 L574.8,898.0 L576.1,901.8 L577.4,905.5 L578.7,909.3 L580.0,913.1 L581.4,916.9 L582.7,920.6 L584.1,924.4 L585.4,928.1 L586.8,931.9 L588.2,935.7 L589.6,939.4 L591.0,943.1 L592.4,946.9 L593.8,950.6 L595.2,954.4 L596.7,958.1 L598.1,961.8 L599.6,965.6 L601.1,969.3 L602.5,973.0 L604.0,976.7 L605.5,980.4 L607.0,984.1 L608.6,987.8 L610.1,991.6 L611.7,995.2 L613.2,998.9 L614.8,1002.6 L616.4,1006.3 L618.0,1010.0 L619.6,1013.7 L621.2,1017.4 L622.8,1021.0 L624.5,1024.7 L626.1,1028.3 L627.8,1032.0 L629.5,1035.6 L631.2,1039.3 L632.9,1042.9 L634.7,1046.5 L636.4,1050.1 L638.2,1053.7 L640.0,1057.3 L641.8,1060.9 L643.6,1064.5 L645.4,1068.1 L647.3,1071.6 L649.1,1075.2 L651.0,1078.7 L652.9,1082.2 L654.8,1085.8 L656.8,1089.3 L658.7,1092.7 L660.7,1096.2 L662.7,1099.7 L664.7,1103.1 L666.8,1106.6 L668.8,1110.0 L670.9,1113.4 L673.0,1116.8 L675.2,1120.2 L677.3,1123.6 L679.5,1126.9 L681.7,1130.3 L683.9,1133.6 L686.1,1136.9 L688.4,1140.2 L690.6,1143.5 L692.9,1146.7 L695.3,1150.0 L697.6,1153.2 L700.0,1156.4 L702.4,1159.6 L704.8,1162.7 L707.3,1165.9 L709.8,1169.0 L712.3,1172.1 L714.8,1175.2 L717.4,1178.3 L719.9,1181.3 L722.6,1184.4 L725.2,1187.4 L727.8,1190.3 L730.5,1193.3 L733.2,1196.2 L736.0,1199.2 L738.7,1202.1 L741.5,1204.9 L744.3,1207.8 L747.2,1210.6 L750.0,1213.4 L752.9,1216.2 L755.8,1218.9 L758.7,1221.6 L761.7,1224.4 L764.6,1227.0 L767.6,1229.7 L770.6,1232.3 L773.7,1234.9 L776.7,1237.5 L779.8,1240.0 L782.9,1242.5 L786.0,1245.0 L789.2,1247.5 L792.3,1249.9 L795.5,1252.3 L798.7,1254.7 L801.9,1257.1 L805.2,1259.4 L808.5,1261.7 L811.7,1263.9 L815.0,1266.2 L818.4,1268.3 L821.7,1270.5 L825.0,1272.7 L828.4,1274.8 L831.8,1276.8 L835.2,1278.9 L838.6,1280.9 L842.1,1282.9 L845.5,1284.8 L849.0,1286.7 L852.5,1288.6 L856.0,1290.5 L859.6,1292.3 L863.1,1294.1 L866.6,1295.9 L870.2,1297.6 L873.8,1299.3 L877.4,1301.0 L881.0,1302.7 L884.6,1304.3 L888.3,1305.9 L891.9,1307.5 L895.6,1309.1 L899.3,1310.6 L902.9,1312.1 L906.6,1313.6 L910.3,1315.0 L914.1,1316.5 L917.8,1317.9 L921.5,1319.3 L925.3,1320.7 L929.0,1322.0 L932.8,1323.3 L936.6,1324.7 L940.3,1325.9 L944.1,1327.2 L947.9,1328.5 L951.7,1329.7 L955.6,1330.9 L959.4,1332.1 L963.2,1333.3 L967.0,1334.4 L970.9,1335.6 L974.7,1336.7 L978.6,1337.8 L982.4,1338.9 L986.3,1340.0 L990.1,1341.1 L994.0,1342.1 L997.9,1343.2 L1001.7,1344.2 L1005.6,1345.2 L1009.5,1346.2 L1013.4,1347.2 L1017.3,1348.2 L1021.1,1349.1 L1025.0,1350.1 L1028.9,1351.0 L1032.8,1352.0 L1036.7,1352.9 L1040.6,1353.8 L1044.5,1354.7 L1048.4,1355.6 L1052.3,1356.5 L1056.2,1357.3 L1060.1,1358.2 L1064.0,1359.0 L1067.9,1359.9 L1071.8,1360.7 L1075.7,1361.5 L1079.6,1362.3 L1083.6,1363.1 L1087.5,1363.9 L1091.4,1364.7 L1095.3,1365.4 L1099.2,1366.2 L1103.2,1367.0 L1107.1,1367.7 L1111.0,1368.4 L1114.9,1369.1 L1118.9,1369.8 L1122.8,1370.5 L1126.7,1371.2 L1130.7,1371.9 L1134.6,1372.6 L1138.5,1373.3 L1142.5,1373.9 L1146.4,1374.6 L1150.4,1375.2 L1154.3,1375.9 L1158.3,1376.5 L1162.2,1377.1 L1166.2,1377.7 L1170.1,1378.3 L1174.1,1378.9 L1178.0,1379.5 L1182.0,1380.1 L1185.9,1380.7 L1189.9,1381.2 L1193.8,1381.8 L1197.8,1382.4 L1201.8,1382.9 L1205.7,1383.4 L1209.7,1384.0 L1213.6,1384.5 L1217.6,1385.0 L1221.6,1385.5 L1225.5,1386.1 L1229.5,1386.6 L1233.5,1387.1 L1237.4,1387.6 L1241.4,1388.0 L1245.4,1388.5 L1249.4,1389.0 L1253.3,1389.5 L1257.3,1389.9 L1261.3,1390.4 L1265.2,1390.9 L1269.2,1391.3 L1273.2,1391.8 L1277.2,1392.2 L1281.2,1392.7 L1285.1,1393.1 L1289.1,1393.5 L1293.1,1393.9 L1297.1,1394.4 L1301.1,1394.8 L1305.0,1395.2 L1309.0,1395.6 L1313.0,1396.0 L1317.0,1396.4 L1321.0,1396.8 L1325.0,1397.2 L1328.9,1397.6 L1332.9,1398.0 L1336.9,1398.4 L1340.9,1398.8 L1344.9,1399.2 L1348.9,1399.6 L1352.9,1399.9 L1356.9,1400.3 L1360.8,1400.7 L1364.8,1401.1 L1368.8,1401.4 L1372.8,1401.8 L1376.8,1402.2 L1380.8,1402.5 L1384.8,1402.9 L1388.8,1403.3 L1392.8,1403.6 L1396.7,1404.0 L1400.7,1404.3 L1404.7,1404.7 L1408.7,1405.1 L1412.7,1405.4 L1416.7,1405.8 L1420.7,1406.1 L1424.7,1406.5 L1428.7,1406.8 L1432.7,1407.2 L1436.6,1407.5 L1440.6,1407.9 L1444.6,1408.3 L1448.6,1408.6 L1452.6,1409.0 L1456.6,1409.3 L1460.6,1409.7 L1464.6,1410.0 L1468.6,1410.4 L1472.5,1410.7 L1476.5,1411.1 L1480.5,1411.4 L1484.5,1411.8 L1488.5,1412.2 L1492.5,1412.5 L1496.5,1412.9 L1500.5,1413.2 L1504.4,1413.6 L1508.4,1413.9 L1512.4,1414.3 L1516.4,1414.7 L1520.4,1415.0 L1524.4,1415.4 L1528.4,1415.7 L1532.3,1416.1 L1536.3,1416.4 L1540.3,1416.8 L1544.3,1417.2 L1548.3,1417.5 L1552.3,1417.9 L1556.3,1418.2 L1560.2,1418.6 L1564.2,1418.9 L1568.2,1419.3 L1572.2,1419.7 L1576.2,1420.0 L1580.2,1420.4 L1584.1,1420.7 L1588.1,1421.1 L1592.1,1421.4 L1596.1,1421.8 L1600.1,1422.1 L1604.1,1422.5 L1608.0,1422.9 L1612.0,1423.2 L1616.0,1423.6 L1620.0,1423.9 L1624.0,1424.3 L1628.0,1424.6 L1631.9,1425.0 L1635.9,1425.3 L1639.9,1425.7 L1643.9,1426.0 L1647.9,1426.4 L1651.9,1426.7 L1655.8,1427.1 L1659.8,1427.4 L1663.8,1427.8 L1667.8,1428.1 L1671.8,1428.5 L1675.7,1428.8 L1679.7,1429.2 L1683.7,1429.5 L1687.7,1429.9 L1691.7,1430.2 L1695.7,1430.6 L1699.6,1430.9 L1703.6,1431.3 L1707.6,1431.6 L1711.6,1432.0 L1715.6,1432.3 L1719.5,1432.7 L1723.5,1433.0 L1727.5,1433.3 L1731.5,1433.7 L1735.5,1434.0 L1739.5,1434.4 L1743.4,1434.7 L1747.4,1435.0 L1751.4,1435.4 L1755.4,1435.7 L1759.4,1436.1 L1763.3,1436.4 L1767.3,1436.7 L1771.3,1437.1 L1775.3,1437.4 L1779.3,1437.7 L1783.2,1438.1 L1787.2,1438.4 L1791.2,1438.7 L1795.2,1439.1 L1799.2,1439.4 L1803.2,1439.7 L1807.1,1440.0 L1811.1,1440.4 L1815.1,1440.7 L1819.1,1441.0 L1823.1,1441.4 L1827.0,1441.7 L1831.0,1442.0 L1835.0,1442.3 L1839.0,1442.6 L1843.0,1443.0 L1847.0,1443.3 L1850.9,1443.6 L1854.9,1443.9 L1858.9,1444.2 L1862.9,1444.5 L1866.9,1444.9 L1870.8,1445.2 L1874.8,1445.5 L1878.8,1445.8 L1882.8,1446.1 L1886.8,1446.4 L1890.8,1446.7 L1894.7,1447.0 L1898.7,1447.3 L1902.7,1447.6 L1906.7,1448.0 L1910.7,1448.3 L1914.7,1448.6 L1918.6,1448.9 L1922.6,1449.2 L1926.6,1449.5 L1930.6,1449.7 L1934.6,1450.0 L1938.6,1450.3 L1942.5,1450.6 L1946.5,1450.9 L1950.5,1451.2 L1954.5,1451.5 L1958.5,1451.8 L1962.5,1452.1 L1966.5,1452.4 L1970.4,1452.6 L1974.4,1452.9 L1978.4,1453.2 L1982.4,1453.5 L1986.4,1453.8 L1990.4,1454.0 L1994.4,1454.3 L1998.3,1454.6 L2002.3,1454.9 L2006.3,1455.1 L2010.3,1455.4 L2014.3,1455.7 L2018.3,1455.9 L2022.3,1456.2 L2026.3,1456.5 L2030.2,1456.7 L2034.2,1457.0 L2038.2,1457.3 L2042.2,1457.5 L2046.2,1457.8 L2050.2,1458.0 L2054.2,1458.3 L2058.2,1458.5 L2062.1,1458.8 L2066.1,1459.0 L2070.1,1459.3 L2074.1,1459.5 L2078.1,1459.8 L2082.1,1460.0 L2086.1,1460.3 L2090.1,1460.5 L2094.1,1460.7 L2098.1,1461.0 L2102.0,1461.2 L2106.0,1461.4 L2110.0,1461.7 L2114.0,1461.9 L2118.0,1462.1 L2122.0,1462.3 L2126.0,1462.6 L2130.0,1462.8 L2134.0,1463.0 L2138.0,1463.2 L2142.0,1463.4 L2146.0,1463.7 L2150.0,1463.9 L2154.0,1464.1 L2157.9,1464.3 L2161.9,1464.5 L2165.9,1464.7 L2169.9,1464.9 L2173.9,1465.1 L2177.9,1465.3 L2181.9,1465.5 L2185.9,1465.7 L2189.9,1465.9 L2193.9,1466.1 L2197.9,1466.3 L2201.9,1466.4 L2205.9,1466.6 L2209.9,1466.8 L2213.9,1467.0 L2217.9,1467.2 L2221.9,1467.4 L2225.9,1467.5 L2229.9,1467.7 L2233.9,1467.9 L2237.9,1468.0 L2241.9,1468.2 L2245.9,1468.4 L2249.9,1468.5 L2253.9,1468.7 L2257.9,1468.8 L2261.9,1469.0 L2265.9,1469.2 L2269.9,1469.3 L2273.9,1469.5 L2277.9,1469.6 L2281.9,1469.7 L2285.9,1469.9 L2289.9,1470.0 L2293.9,1470.2 L2297.9,1470.3 L2301.9,1470.4 L2305.9,1470.6 L2309.9,1470.7 L2314.0,1470.8 L2318.0,1470.9 L2322.0,1471.1 L2326.0,1471.2 L2330.0,1471.3 L2334.0,1471.4 L2338.0,1471.5 L2342.0,1471.6 L2346.0,1471.7 L2350.0,1471.8" stroke="#9c2430" stroke-width="3.6"/>
<line x1="530.2" y1="765.5" x2="789.1" y2="1523" stroke="#222222" stroke-width="2.2"/>
<line x1="489.0" y1="730" x2="771.2" y2="1523" stroke="#222222" stroke-width="2.2"/>
<line x1="724.8" y1="781.5" x2="990.4" y2="1523" stroke="#222222" stroke-width="2.2"/>
</g>
<rect x="325.1" y="41.3" width="2025.6" height="1481.9" fill="none" stroke="#000" stroke-width="6.0"/>
<line x1="325.1" y1="1498.8" x2="358.5" y2="1498.8" stroke="#000" stroke-width="5.5"/>
<line x1="325.1" y1="1093.7" x2="358.5" y2="1093.7" stroke="#000" stroke-width="5.5"/>
<line x1="325.1" y1="688.7" x2="358.5" y2="688.7" stroke="#000" stroke-width="5.5"/>
<line x1="325.1" y1="283.6" x2="358.5" y2="283.6" stroke="#000" stroke-width="5.5"/>
<line x1="325.1" y1="1523.2" x2="325.1" y2="1556.5" stroke="#000" stroke-width="5.5"/>
<line x1="437.6" y1="1523.2" x2="437.6" y2="1541.5" stroke="#000" stroke-width="5.5"/>
<line x1="550.2" y1="1523.2" x2="550.2" y2="1556.5" stroke="#000" stroke-width="5.5"/>
<line x1="662.7" y1="1523.2" x2="662.7" y2="1541.5" stroke="#000" stroke-width="5.5"/>
<line x1="775.2" y1="1523.2" x2="775.2" y2="1556.5" stroke="#000" stroke-width="5.5"/>
<line x1="887.8" y1="1523.2" x2="887.8" y2="1541.5" stroke="#000" stroke-width="5.5"/>
<line x1="1000.3" y1="1523.2" x2="1000.3" y2="1556.5" stroke="#000" stroke-width="5.5"/>
<line x1="1112.8" y1="1523.2" x2="1112.8" y2="1541.5" stroke="#000" stroke-width="5.5"/>
<line x1="1225.4" y1="1523.2" x2="1225.4" y2="1556.5" stroke="#000" stroke-width="5.5"/>
<line x1="1337.9" y1="1523.2" x2="1337.9" y2="1541.5" stroke="#000" stroke-width="5.5"/>
<line x1="1450.4" y1="1523.2" x2="1450.4" y2="1556.5" stroke="#000" stroke-width="5.5"/>
<line x1="1563.0" y1="1523.2" x2="1563.0" y2="1541.5" stroke="#000" stroke-width="5.5"/>
<line x1="1675.5" y1="1523.2" x2="1675.5" y2="1556.5" stroke="#000" stroke-width="5.5"/>
<line x1="1788.0" y1="1523.2" x2="1788.0" y2="1541.5" stroke="#000" stroke-width="5.5"/>
<line x1="1900.6" y1="1523.2" x2="1900.6" y2="1556.5" stroke="#000" stroke-width="5.5"/>
<line x1="2013.1" y1="1523.2" x2="2013.1" y2="1541.5" stroke="#000" stroke-width="5.5"/>
<line x1="2125.6" y1="1523.2" x2="2125.6" y2="1556.5" stroke="#000" stroke-width="5.5"/>
<line x1="2238.2" y1="1523.2" x2="2238.2" y2="1541.5" stroke="#000" stroke-width="5.5"/>
<line x1="2350.7" y1="1523.2" x2="2350.7" y2="1556.5" stroke="#000" stroke-width="5.5"/>
<text transform="translate(184.90,1520.90) scale(0.893,1)" x="0" y="0" font-size="90.7" text-anchor="start">0.0</text>
<clipPath id="nf1" clipPathUnits="userSpaceOnUse"><rect x="0.0" y="0.0" width="2444.0" height="1106.7"/><rect x="0.0" y="1105.7" width="254.8" height="1828.0"/><rect x="271.1" y="1105.7" width="7.9" height="1828.0"/><rect x="294.5" y="1105.7" width="2149.5" height="1828.0"/></clipPath><g clip-path="url(#nf1)"><text transform="translate(183.60,1114.80) scale(0.893,1)" x="0" y="0" font-size="90.7" text-anchor="start">0.1</text></g>
<text transform="translate(180.40,703.60) scale(0.893,1)" x="0" y="0" font-size="90.7" text-anchor="start">0.2</text>
<text transform="translate(180.70,305.00) scale(0.893,1)" x="0" y="0" font-size="90.7" text-anchor="start">0.3</text>
<text transform="translate(326.20,1637.10) scale(0.876,1)" x="0" y="0" font-size="93.7" text-anchor="middle">330</text>
<text transform="translate(551.27,1637.10) scale(0.876,1)" x="0" y="0" font-size="93.7" text-anchor="middle">360</text>
<text transform="translate(776.33,1637.10) scale(0.876,1)" x="0" y="0" font-size="93.7" text-anchor="middle">390</text>
<text transform="translate(1001.40,1637.10) scale(0.876,1)" x="0" y="0" font-size="93.7" text-anchor="middle">420</text>
<text transform="translate(1226.47,1637.10) scale(0.876,1)" x="0" y="0" font-size="93.7" text-anchor="middle">450</text>
<text transform="translate(1451.53,1637.10) scale(0.876,1)" x="0" y="0" font-size="93.7" text-anchor="middle">480</text>
<clipPath id="nf2" clipPathUnits="userSpaceOnUse"><rect x="0.0" y="0.0" width="2444.0" height="1628.8"/><rect x="0.0" y="1627.8" width="1657.5" height="1828.0"/><rect x="1674.0" y="1627.8" width="8.0" height="1828.0"/><rect x="1697.7" y="1627.8" width="746.3" height="1828.0"/></clipPath><g clip-path="url(#nf2)"><text transform="translate(1676.60,1637.10) scale(0.876,1)" x="0" y="0" font-size="93.7" text-anchor="middle">510</text></g>
<text transform="translate(1901.67,1637.10) scale(0.876,1)" x="0" y="0" font-size="93.7" text-anchor="middle">540</text>
<text transform="translate(2126.73,1637.10) scale(0.876,1)" x="0" y="0" font-size="93.7" text-anchor="middle">570</text>
<text transform="translate(2351.80,1637.10) scale(0.876,1)" x="0" y="0" font-size="93.7" text-anchor="middle">600</text>
<text transform="translate(1035.00,1770.00) scale(0.9,1)" x="0" y="0" font-size="90" text-anchor="start">Wavelength (nm)</text>
<text transform="translate(104.30,1091.00) rotate(-90) scale(0.896,1)" x="0" y="0" font-size="90" text-anchor="start">Absorbance (a.u)</text>
<line x1="1242.7" y1="136.4" x2="1439.2" y2="136.4" stroke="#9c2430" stroke-width="4.4"/>
<text transform="translate(1480.90,146.90) scale(0.87,1)" x="0" y="0" font-size="77" text-anchor="start">N-TiO2 - 350</text>
<text transform="translate(1872.00,144.90) scale(0.87,1)" x="0" y="0" font-size="85" text-anchor="start">°</text>
<text transform="translate(1899.20,146.90) scale(0.87,1)" x="0" y="0" font-size="77" text-anchor="start">C</text>
<line x1="1242.7" y1="212.8" x2="1439.2" y2="212.8" stroke="#12127a" stroke-width="4.4"/>
<text transform="translate(1485.10,229.20) scale(0.87,1)" x="0" y="0" font-size="77" text-anchor="start">TiO2 - as deposited</text>
<line x1="1245.7" y1="293.4" x2="1444.6" y2="293.4" stroke="#111111" stroke-width="3.2"/>
<text transform="translate(1488.30,323.50) scale(0.87,1)" x="0" y="0" font-size="77" text-anchor="start">N-TiO2 - 200</text>
<text transform="translate(1879.30,321.90) scale(0.87,1)" x="0" y="0" font-size="85" text-anchor="start">°</text>
<text transform="translate(1906.60,323.50) scale(0.87,1)" x="0" y="0" font-size="77" text-anchor="start">C</text>
</svg></body></html>
